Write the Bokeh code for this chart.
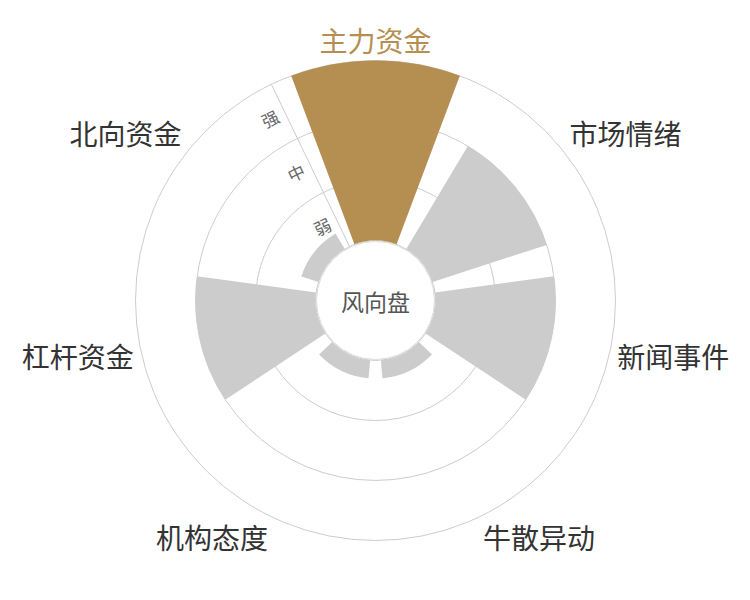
import numpy as np
from bokeh.plotting import figure
from bokeh.models import Range1d, ColumnDataSource
from bokeh.core.properties import value
from bokeh.embed import file_html
from bokeh.resources import INLINE

# ---- data ----
categories = ["主力资金", "市场情绪", "新闻事件", "牛散异动", "机构态度", "杠杆资金", "北向资金"]
strength = [3, 2, 2, 0.3, 0.3, 2, 0.3]
levels = ["弱", "中", "强"]
center_label = "风向盘"
highlight = "主力资金"

# ---- styles ----
FONT = "Noto Sans CJK SC"
GOLD = "#b58f52"
GREY_BAR = "#cccccc"
RING = "#cccccc"
R0, R1 = 60.0, 240.0
VMAX = 3.0
n = len(categories)
band = 360.0 / n
bar_frac = 0.8
LABEL_HALF_H = 13

def rad(v):
    return R0 + (R1 - R0) * np.asarray(v, dtype=float) / VMAX

p = figure(width=734, height=584, x_range=Range1d(-375, 359), y_range=Range1d(-284, 300),
           output_backend="svg", toolbar_location=None, x_axis_type=None, y_axis_type=None,
           min_border=0, outline_line_color=None, background_fill_color="white")

# rings
ring_r = [rad(i) for i in range(len(levels) + 1)]
p.circle(x=[0] * len(ring_r), y=[0] * len(ring_r), radius=ring_r, fill_color=None,
         line_color=RING, line_width=1)

# radial axis line at boundary between last and first category
ax_ang = np.deg2rad(90 + band / 2)
p.segment(x0=[R0 * np.cos(ax_ang)], y0=[R0 * np.sin(ax_ang)],
          x1=[R1 * np.cos(ax_ang)], y1=[R1 * np.sin(ax_ang)], line_color=RING, line_width=1)

# bars
theta = np.arange(n) * band  # clockwise from north
mid = 90 - theta
half = band * bar_frac / 2
src = ColumnDataSource(dict(
    x=[0] * n, y=[0] * n,
    inner=[R0] * n, outer=list(rad(strength)),
    start=list(np.deg2rad(mid - half)), end=list(np.deg2rad(mid + half)),
    color=[GOLD if c == highlight else GREY_BAR for c in categories],
))
p.annular_wedge(x="x", y="y", inner_radius="inner", outer_radius="outer",
                start_angle="start", end_angle="end", fill_color="color",
                line_color=None, source=src)

# center circle
p.circle(x=[0], y=[0], radius=[R0 - 1], fill_color="white", line_color="#dddddd", line_width=1)
p.text(x=[0], y=[0], text=[center_label], text_font=value(FONT), text_font_size="23px",
       text_color="#555555", text_align="center", text_baseline="middle")

# category labels
lab_r = R1 + 8
xs, ys, aligns, cols = [], [], [], []
for c, t in zip(categories, theta):
    dx, dy = np.sin(np.deg2rad(t)), np.cos(np.deg2rad(t))
    xs.append(lab_r * dx)
    shift = 0 if abs(dy) < 0.3 else (LABEL_HALF_H if dy > 0 else -LABEL_HALF_H)
    ys.append(lab_r * dy + shift)
    aligns.append("center" if abs(dx) < 0.3 else ("left" if dx > 0 else "right"))
    cols.append(GOLD if c == highlight else "#333333")
lsrc = ColumnDataSource(dict(x=xs, y=ys, text=categories, align=aligns, color=cols))
p.text(x="x", y="y", text="text", text_align="align", text_baseline="middle", text_color="color",
       text_font=value(FONT), text_font_size="28px", source=lsrc)

# level labels along radial axis
perp = np.array([np.cos(ax_ang - np.pi / 2), np.sin(ax_ang - np.pi / 2)]) * -1
mids = [(rad(i) + rad(i + 1)) / 2 for i in range(len(levels))]
lx = [m * np.cos(ax_ang) + 16 * perp[0] for m in mids]
ly = [m * np.sin(ax_ang) + 16 * perp[1] for m in mids]
p.text(x=lx, y=ly, text=levels, angle=np.deg2rad(band / 2), text_align="center",
       text_baseline="middle", text_font=value(FONT), text_font_size="17px", text_color="#666666")

open("out.html", "w").write(file_html(p, INLINE))
